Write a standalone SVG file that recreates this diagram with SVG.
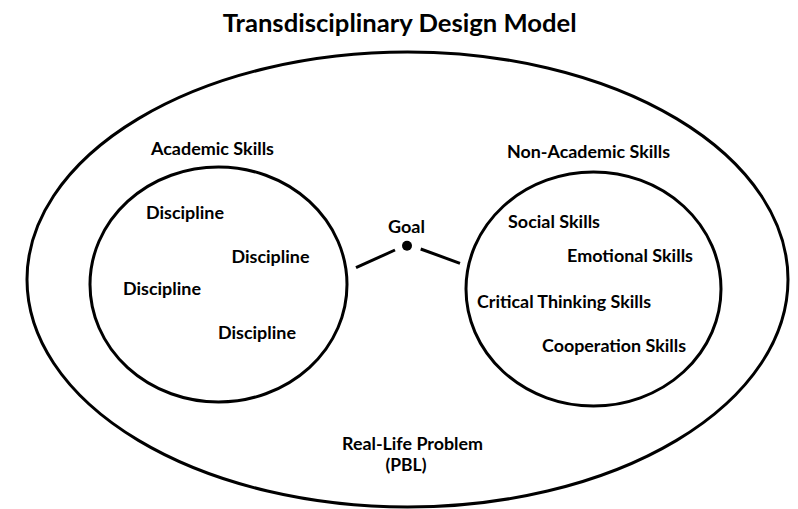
<svg xmlns="http://www.w3.org/2000/svg" width="798" height="509" viewBox="0 0 798 509">
<style>
  .shape { fill: none; stroke: #000; stroke-width: 3; }
  .lbl { font-family: Lato, "Open Sans", "Liberation Sans", sans-serif; font-weight: bold; font-size: 16.5px; fill: #000; text-anchor: middle; }
  .title { font-size: 25px; }
  .conn { stroke: #000; stroke-width: 3; fill: none; }
</style>
<rect width="798" height="509" fill="#fff"/>
<text class="lbl title" x="399.7" y="31.5" textLength="354" lengthAdjust="spacingAndGlyphs">Transdisciplinary Design Model</text>
<g id="real-life-problem">
  <ellipse class="shape" cx="407.5" cy="279.5" rx="380.5" ry="227.5"/>
  <text class="lbl" x="412.5" y="450" textLength="141" lengthAdjust="spacingAndGlyphs">Real-Life Problem</text>
  <text class="lbl" x="406" y="471" textLength="41" lengthAdjust="spacingAndGlyphs">(PBL)</text>
</g>
<g id="academic-skills">
  <text class="lbl" x="212.5" y="155" textLength="123" lengthAdjust="spacingAndGlyphs">Academic Skills</text>
  <ellipse class="shape" cx="218.5" cy="284.5" rx="128.5" ry="117.5"/>
  <text class="lbl" x="185" y="219" textLength="78" lengthAdjust="spacingAndGlyphs">Discipline</text>
  <text class="lbl" x="270.5" y="263" textLength="78" lengthAdjust="spacingAndGlyphs">Discipline</text>
  <text class="lbl" x="162" y="295" textLength="78" lengthAdjust="spacingAndGlyphs">Discipline</text>
  <text class="lbl" x="257" y="339" textLength="78" lengthAdjust="spacingAndGlyphs">Discipline</text>
</g>
<g id="non-academic-skills">
  <text class="lbl" x="588.5" y="158" textLength="163" lengthAdjust="spacingAndGlyphs">Non-Academic Skills</text>
  <ellipse class="shape" cx="593.5" cy="289" rx="127.5" ry="117"/>
  <text class="lbl" x="554" y="228" textLength="92" lengthAdjust="spacingAndGlyphs">Social Skills</text>
  <text class="lbl" x="630" y="262" textLength="126" lengthAdjust="spacingAndGlyphs">Emotional Skills</text>
  <text class="lbl" x="564" y="308" textLength="174" lengthAdjust="spacingAndGlyphs">Critical Thinking Skills</text>
  <text class="lbl" x="614" y="352" textLength="144" lengthAdjust="spacingAndGlyphs">Cooperation Skills</text>
</g>
<g id="goal">
  <circle cx="407" cy="245.7" r="5" fill="#000"/>
  <text class="lbl" x="406.5" y="233" textLength="37" lengthAdjust="spacingAndGlyphs">Goal</text>
</g>
<g id="connectors">
  <line class="conn" x1="356" y1="267.7" x2="395" y2="250"/>
  <line class="conn" x1="420.7" y1="249" x2="460" y2="263.3"/>
</g>
</svg>
